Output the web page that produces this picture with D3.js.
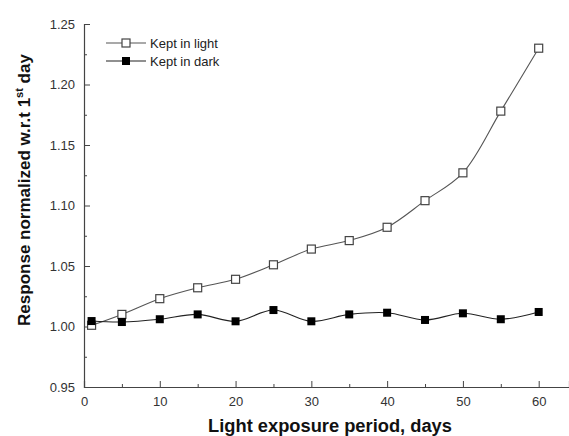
<!DOCTYPE html>
<html>
<head>
<meta charset="utf-8">
<script src="https://cdn.jsdelivr.net/npm/d3@7"></script>
<style>
  body { margin: 0; background: #fff; }
  svg { display: block; font-family: "Liberation Sans", Arial, sans-serif; }
</style>
</head>
<body>
<svg id="chart" width="569" height="436"></svg>
<script>
// Exposure days at which the response was measured
const days = [1, 5, 10, 15, 20, 25, 30, 35, 40, 45, 50, 55, 60];
// Normalized response, sample kept under light
const keptInLight = [1.001, 1.010, 1.023, 1.032, 1.039, 1.051, 1.064, 1.071, 1.082, 1.104, 1.127, 1.178, 1.230];
// Normalized response, sample kept in the dark
const keptInDark = [1.0045, 1.0037, 1.006, 1.010, 1.0043, 1.0136, 1.0043, 1.010, 1.0114, 1.0054, 1.0109, 1.006, 1.012];
// Axis ticks
const xTicks = [0, 10, 20, 30, 40, 50, 60];
const yTicks = [0.95, 1.00, 1.05, 1.10, 1.15, 1.20, 1.25];
const seriesNames = ["Kept in light", "Kept in dark"];

const svg = d3.select("#chart");
const plotLeft = 84, plotRight = 569, plotTop = 24, plotBottom = 387;

const x = d3.scaleLinear().domain([0, 64]).range([plotLeft, plotRight]);
const y = d3.scaleLinear().domain([0.95, 1.25]).range([plotBottom, plotTop]);

const axisColor = "#444";

// X axis: major ticks every 10, minor every 5, drawn inward
const xMinor = svg.append("g").attr("transform", `translate(0,${plotBottom})`)
  .call(d3.axisBottom(x).tickValues(d3.range(5, 61, 10)).tickSize(-3).tickFormat(""));
xMinor.select(".domain").remove();
const xMajor = svg.append("g").attr("transform", `translate(0,${plotBottom})`)
  .call(d3.axisBottom(x).tickValues(xTicks).tickSize(-6).tickPadding(10).tickFormat(d3.format("d")));
xMajor.select(".domain").attr("stroke", axisColor).attr("stroke-width", 1.2);
xMajor.selectAll("text").attr("font-size", 13).attr("fill", "#333");

// Y axis: major ticks every 0.05, minor every 0.025, drawn inward
const yMinor = svg.append("g").attr("transform", `translate(${plotLeft},0)`)
  .call(d3.axisLeft(y).tickValues(d3.range(0.975, 1.25, 0.05)).tickSize(-3).tickFormat(""));
yMinor.select(".domain").remove();
const yMajor = svg.append("g").attr("transform", `translate(${plotLeft},0)`)
  .call(d3.axisLeft(y).tickValues(yTicks).tickSize(-6).tickPadding(9).tickFormat(d3.format(".2f")));
yMajor.select(".domain").attr("stroke", axisColor).attr("stroke-width", 1.2);
yMajor.selectAll("text").attr("font-size", 13).attr("fill", "#333");
svg.selectAll(".tick line").attr("stroke", axisColor);

// Axis titles
svg.append("text")
  .attr("x", 330).attr("y", 432)
  .attr("text-anchor", "middle")
  .attr("font-size", 18.3).attr("font-weight", "bold").attr("fill", "#111")
  .text("Light exposure period, days");

const yTitle = svg.append("text")
  .attr("transform", "translate(30,190) rotate(-90)")
  .attr("text-anchor", "middle")
  .attr("font-size", 17).attr("font-weight", "bold").attr("fill", "#111");
yTitle.append("tspan").text("Response normalized w.r.t 1");
yTitle.append("tspan").attr("font-size", 11).attr("dy", -7).text("st");
yTitle.append("tspan").attr("dy", 7).text(" day");

// Series
const line = d3.line()
  .x(d => x(d[0]))
  .y(d => y(d[1]))
  .curve(d3.curveCatmullRom.alpha(0.5));

const lightData = days.map((d, i) => [d, keptInLight[i]]);
const darkData = days.map((d, i) => [d, keptInDark[i]]);

svg.append("path").datum(lightData).attr("d", line)
  .attr("fill", "none").attr("stroke", "#555").attr("stroke-width", 1.1);
svg.append("path").datum(darkData).attr("d", line)
  .attr("fill", "none").attr("stroke", "#222").attr("stroke-width", 1.1);

const s = 8;
svg.append("g").selectAll("rect").data(lightData).join("rect")
  .attr("x", d => x(d[0]) - s / 2).attr("y", d => y(d[1]) - s / 2)
  .attr("width", s).attr("height", s)
  .attr("fill", "#fff").attr("stroke", "#444").attr("stroke-width", 1.2);
svg.append("g").selectAll("rect").data(darkData).join("rect")
  .attr("x", d => x(d[0]) - s / 2).attr("y", d => y(d[1]) - s / 2)
  .attr("width", s).attr("height", s)
  .attr("fill", "#000");

// Legend
const legend = svg.append("g");
seriesNames.forEach((name, i) => {
  const ly = 43 + i * 18;
  legend.append("line").attr("x1", 106).attr("x2", 146).attr("y1", ly).attr("y2", ly)
    .attr("stroke", i === 0 ? "#555" : "#222").attr("stroke-width", 1.1);
  legend.append("rect").attr("x", 126 - s / 2).attr("y", ly - s / 2).attr("width", s).attr("height", s)
    .attr("fill", i === 0 ? "#fff" : "#000")
    .attr("stroke", i === 0 ? "#444" : "none").attr("stroke-width", 1.2);
  legend.append("text").attr("x", 150).attr("y", ly + 5)
    .attr("font-size", 13).attr("fill", "#222").text(name);
});
</script>
</body>
</html>
